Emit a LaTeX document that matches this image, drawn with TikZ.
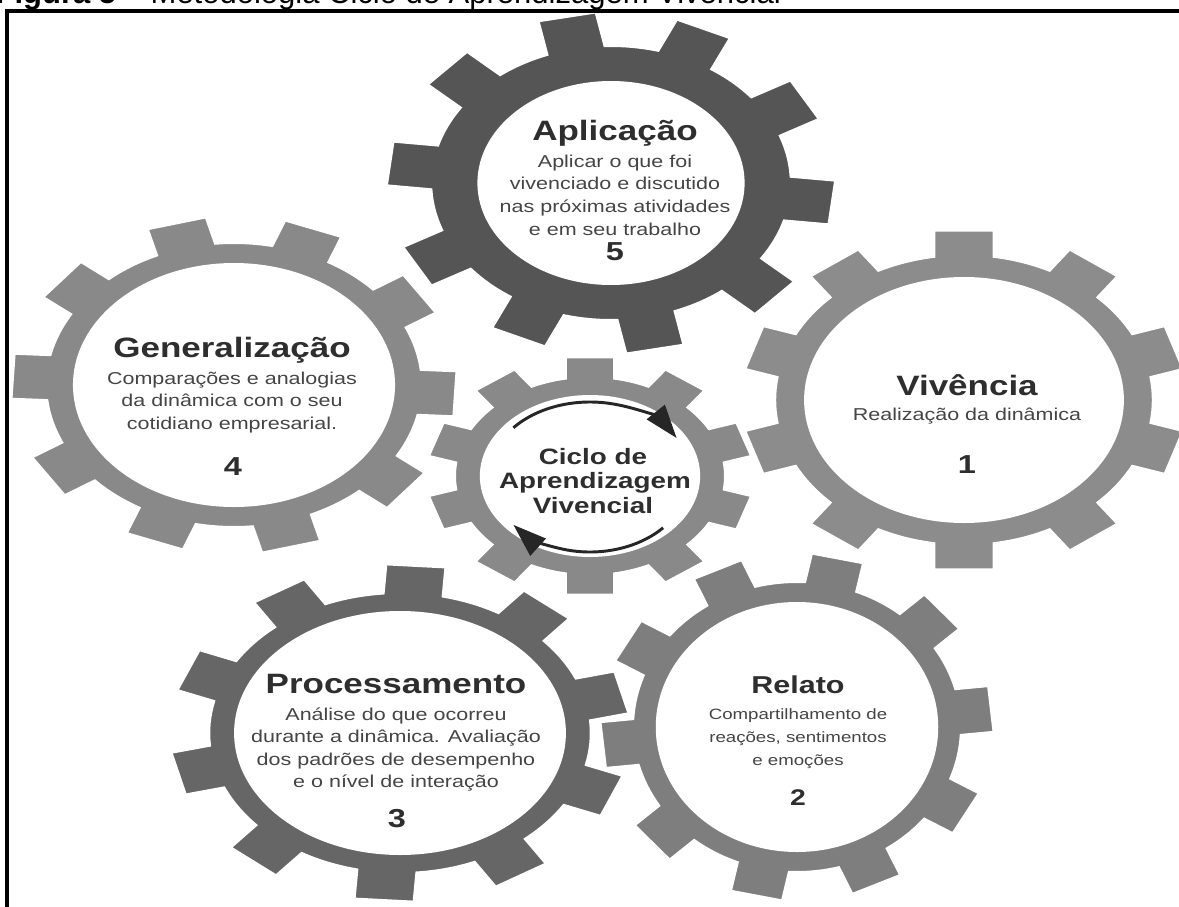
\documentclass[tikz,border=0pt]{standalone}
\usepackage{fontspec}
\setmainfont{Liberation Sans}
\usetikzlibrary{arrows.meta}

\definecolor{gearfive}{HTML}{555555}
\definecolor{gearthree}{HTML}{666666}
\definecolor{geartwo}{HTML}{7E7E7E}
\definecolor{gearone}{HTML}{8C8C8C}
\definecolor{gearfour}{HTML}{898989}
\definecolor{gearmid}{HTML}{898989}
\definecolor{headcol}{HTML}{2E2E2E}
\definecolor{bodycol}{HTML}{454545}
\definecolor{arrowcol}{HTML}{262626}

% cogwheel with 10 square teeth:
% #1,#2 centre  #3 horizontal stretch  #4 rotation  #5 tip radius
% #6 root radius  #7 hole radius  #8 tooth width  #9 colour
\newcommand{\cogwheel}[9]{%
  \begin{scope}[shift={(#1,#2)}, xscale=#3]
    \pgfmathsetmacro{\tipang}{asin((#8)/2/(#5))}
    \pgfmathsetmacro{\rootang}{asin((#8)/2/(#6))}
    \filldraw[fill=#9, draw=white, line width=3pt, line join=miter]
      ({#4-18}:#6)
      \foreach \k in {0,...,9}{
        arc[start angle={#4+\k*36-18}, end angle={#4+\k*36-\rootang}, radius=#6]
        -- ({#4+\k*36-\tipang}:#5) -- ({#4+\k*36+\tipang}:#5)
        -- ({#4+\k*36+\rootang}:#6)
        arc[start angle={#4+\k*36+\rootang}, end angle={#4+\k*36+18}, radius=#6]
      } -- cycle;
    \fill[white] (0,0) circle[radius=#7];
  \end{scope}}

\tikzset{
  headtxt/.style={inner sep=0pt, anchor=base, xscale=1.25, text=headcol,
    font=\bfseries\fontsize{21}{25}\selectfont},
  bodytxt/.style={inner sep=0pt, anchor=base, xscale=1.25, text=bodycol,
    font=\fontsize{12.9}{15}\selectfont},
  numtxt/.style={inner sep=0pt, anchor=base, xscale=1.25, text=headcol,
    font=\bfseries\fontsize{19.5}{23}\selectfont},
  smallhead/.style={headtxt, font=\bfseries\fontsize{18.3}{22}\selectfont},
  smallbody/.style={bodytxt, font=\fontsize{11.2}{13}\selectfont},
  smallnum/.style={numtxt, font=\bfseries\fontsize{17}{20}\selectfont},
  midtxt/.style={inner sep=0pt, anchor=base, xscale=1.25, text=headcol,
    font=\bfseries\fontsize{16.7}{20}\selectfont},
  cyclearrow/.style={draw=arrowcol, line width=2.2pt,
    -{Triangle[length=25pt, width=17pt]}},
  framerule/.style={draw=black, line width=2.3pt}
}

\begin{document}
\begin{tikzpicture}[x=0.75pt, y=-0.75pt]
  \useasboundingbox (0,0) rectangle (1179,907);
  \clip (0,0) rectangle (1179,907);
  \fill[white] (0,0) rectangle (1179,907);

  % caption line: only its lowest strip lies inside the page
  \begin{scope}
    \clip (-10,0) rectangle (1200,9.5);
    \node[anchor=base west, inner sep=0pt, font=\fontsize{23.25}{28}\selectfont]
      (caption) at (-4.6,3) {\textbf{Figura 5} – Metodologia Ciclo de Aprendizagem Vivencial};
  \end{scope}

  % the wheels
  \cogwheel{234}{385}{1.32}{3}{170}{143}{122}{47}{gearfour}
  \cogwheel{964}{400}{1.30}{18}{172}{146}{123}{47}{gearone}
  \cogwheel{797}{727}{1.13}{-6}{175}{146}{125}{48}{geartwo}
  \cogwheel{400}{733}{1.36}{-14}{170}{141}{122}{45}{gearthree}
  \cogwheel{611}{183}{1.31}{6.6}{172}{138}{102}{46}{gearfive}
  \cogwheel{590}{476}{1.36}{18}{121}{100}{81}{37}{gearmid}

  % 5 - Aplicacao
  \node[headtxt] (apl-h) at (615,140) {Aplicação};
  \foreach \t [count=\i] in {Aplicar o que foi, vivenciado e discutido,
      nas próximas atividades, e em seu trabalho}
    \node[bodytxt] (apl-\i) at (615,{167+(\i-1)*22.7}) {\t};
  \node[numtxt] (apl-n) at (615,260) {5};

  % 4 - Generalizacao
  \node[headtxt] (gen-h) at (232,357) {Generalização};
  \foreach \t [count=\i] in {Comparações e analogias, da dinâmica com o seu,
      cotidiano empresarial.}
    \node[bodytxt] (gen-\i) at (232,{384+(\i-1)*22.5}) {\t};
  \node[numtxt] (gen-n) at (233,475) {4};

  % 1 - Vivencia
  \node[headtxt] (viv-h) at (967,395) {Vivência};
  \node[bodytxt] (viv-1) at (967,420) {Realização da dinâmica};
  \node[numtxt] (viv-n) at (967,473) {1};

  % 3 - Processamento
  \node[headtxt] (pro-h) at (396,693) {Processamento};
  \foreach \t [count=\i] in {Análise do que ocorreu, durante a dinâmica. Avaliação,
      dos padrões de desempenho, e o nível de interação}
    \node[bodytxt] (pro-\i) at (396,{720+(\i-1)*22.5}) {\t};
  \node[numtxt] (pro-n) at (397,827) {3};

  % 2 - Relato
  \node[smallhead] (rel-h) at (798,693) {Relato};
  \foreach \t [count=\i] in {Compartilhamento de, {reações, sentimentos}, e emoções}
    \node[smallbody] (rel-\i) at (798,{719+(\i-1)*23}) {\t};
  \node[smallnum] (rel-n) at (798,805) {2};

  % centre wheel
  \node[midtxt] (cyc-1) at (593,464) {Ciclo de};
  \node[midtxt] (cyc-2) at (595,488) {Aprendizagem};
  \node[midtxt] (cyc-3) at (593,513) {Vivencial};

  \coordinate (up-a) at ({590+100*cos(-140)},{474+72*sin(-140)});
  \coordinate (dn-a) at ({590+100*cos(43)},{476+76*sin(43)});
  \draw[cyclearrow] (up-a) arc[start angle=-140, end angle=-30, x radius=100, y radius=72];
  \draw[cyclearrow] (dn-a) arc[start angle=43, end angle=140, x radius=100, y radius=76];

  % frame
  \draw[framerule] (1190,11) -- (7,11) -- (7,920);
\end{tikzpicture}
\end{document}
